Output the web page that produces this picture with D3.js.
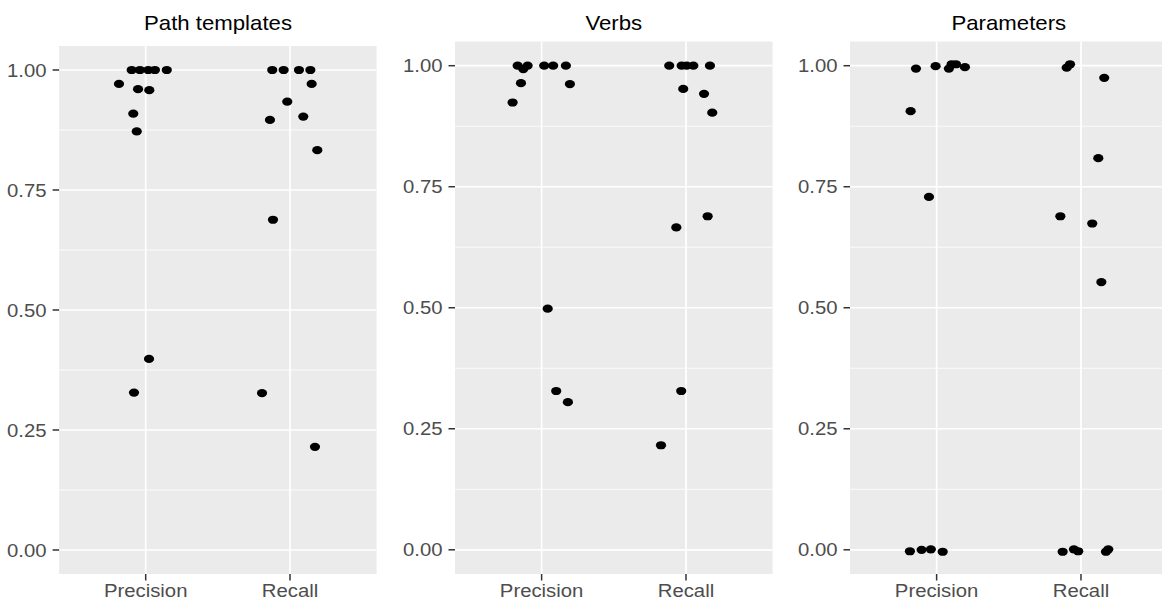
<!DOCTYPE html>
<html>
<head>
<meta charset="utf-8">
<script src="https://cdn.jsdelivr.net/npm/d3@7"></script>
<style>
  html, body { margin: 0; padding: 0; background: #fff; }
  svg { display: block; }
</style>
</head>
<body>
<svg id="chart" width="1162" height="602"></svg>
<script>
// ---------- data ----------
const categories = ["Precision", "Recall"];
const yTicks = [0, 0.25, 0.5, 0.75, 1.0];
const yTickLabels = ["0.00", "0.25", "0.50", "0.75", "1.00"];
const panelTitles = ["Path templates", "Verbs", "Parameters"];

// jittered x position (category index 1 = Precision, 2 = Recall) and value
const pathPrecisionX = [0.903, 0.960, 1.018, 1.064, 1.146, 0.815, 0.947, 1.025, 0.914, 0.938, 1.023, 0.919];
const pathPrecisionY = [1.000, 1.000, 1.000, 1.000, 1.000, 0.971, 0.960, 0.958, 0.909, 0.872, 0.398, 0.328];
const pathRecallX    = [1.877, 1.956, 2.062, 2.141, 2.150, 1.981, 2.092, 1.861, 2.189, 1.882, 1.806, 2.173];
const pathRecallY    = [1.000, 1.000, 1.000, 1.000, 0.971, 0.934, 0.903, 0.896, 0.833, 0.688, 0.327, 0.215];

const verbPrecisionX = [0.834, 0.873, 0.903, 1.018, 1.080, 1.168, 0.857, 1.196, 0.799, 1.042, 1.101, 1.182];
const verbPrecisionY = [1.000, 0.993, 1.000, 1.000, 1.000, 1.000, 0.964, 0.962, 0.924, 0.498, 0.328, 0.305];
const verbRecallX    = [1.884, 1.970, 2.005, 2.051, 2.166, 1.981, 2.125, 2.182, 2.150, 1.933, 1.967, 1.827];
const verbRecallY    = [1.000, 1.000, 1.000, 1.000, 1.000, 0.952, 0.942, 0.903, 0.689, 0.666, 0.328, 0.216];

const paramPrecisionX = [0.857, 0.993, 1.085, 1.104, 1.134, 1.196, 0.820, 0.947, 0.815, 0.896, 0.960, 1.042];
const paramPrecisionY = [0.994, 0.999, 0.994, 1.003, 1.003, 0.997, 0.906, 0.729, -0.003, 0.000, 0.001, -0.004];
const paramRecallX    = [1.901, 1.924, 2.161, 2.120, 1.857, 2.078, 2.141, 1.873, 1.951, 1.981, 2.173, 2.189];
const paramRecallY    = [0.996, 1.003, 0.975, 0.809, 0.689, 0.674, 0.553, -0.004, 0.001, -0.003, -0.004, 0.001];

// ---------- layout ----------
const panels = [
  { title: panelTitles[0], left: 59.1, right: 376.6, top: 46,   bottom: 574, cx: 218,
    xs: [pathPrecisionX, pathRecallX], ys: [pathPrecisionY, pathRecallY] },
  { title: panelTitles[1], left: 455,  right: 772.6, top: 41.5, bottom: 574, cx: 613.8,
    xs: [verbPrecisionX, verbRecallX], ys: [verbPrecisionY, verbRecallY] },
  { title: panelTitles[2], left: 850,  right: 1167.6, top: 41.5, bottom: 574, cx: 1008.8,
    xs: [paramPrecisionX, paramRecallX], ys: [paramPrecisionY, paramRecallY] }
];

const FONT = "'Liberation Sans', Arial, Helvetica, sans-serif";
const SX = 1.11; // horizontal stretch of the reference image

const svg = d3.select("#chart");

function stretchedText(g, x, y, txt, opts) {
  return g.append("text")
    .attr("transform", `translate(${x},${y}) scale(${SX},1)`)
    .attr("text-anchor", opts.anchor || "middle")
    .attr("dy", opts.dy || null)
    .style("font-family", FONT)
    .style("font-size", opts.size + "px")
    .attr("fill", opts.fill || "#000")
    .text(txt);
}

panels.forEach(p => {
  const g = svg.append("g");
  const x = d3.scaleLinear().domain([0.4, 2.6]).range([p.left, p.right]);
  const y = d3.scaleLinear().domain([-0.05, 1.05]).range([p.bottom, p.top]);

  // background
  g.append("rect")
    .attr("x", p.left).attr("y", p.top)
    .attr("width", p.right - p.left).attr("height", p.bottom - p.top)
    .attr("fill", "#EBEBEB");

  // minor grid
  const minor = [0.125, 0.375, 0.625, 0.875];
  g.selectAll(".minor").data(minor).enter().append("line")
    .attr("x1", p.left).attr("x2", p.right)
    .attr("y1", d => y(d)).attr("y2", d => y(d))
    .attr("stroke", "#fff").attr("stroke-width", 0.8);

  // major grid
  g.selectAll(".major").data(yTicks).enter().append("line")
    .attr("x1", p.left).attr("x2", p.right)
    .attr("y1", d => y(d)).attr("y2", d => y(d))
    .attr("stroke", "#fff").attr("stroke-width", 1.7);
  g.selectAll(".vmajor").data([1, 2]).enter().append("line")
    .attr("x1", d => x(d)).attr("x2", d => x(d))
    .attr("y1", p.top).attr("y2", p.bottom)
    .attr("stroke", "#fff").attr("stroke-width", 1.7);

  // y axis ticks and labels
  yTicks.forEach((t, i) => {
    g.append("line")
      .attr("x1", p.left - 6.5).attr("x2", p.left)
      .attr("y1", y(t)).attr("y2", y(t))
      .attr("stroke", "#333").attr("stroke-width", 1.5);
    stretchedText(g, p.left - 12.5, y(t), yTickLabels[i],
      { anchor: "end", size: 18.3, fill: "#4D4D4D", dy: "0.36em" });
  });

  // x axis ticks and labels
  categories.forEach((c, i) => {
    g.append("line")
      .attr("x1", x(i + 1)).attr("x2", x(i + 1))
      .attr("y1", p.bottom).attr("y2", p.bottom + 6.5)
      .attr("stroke", "#333").attr("stroke-width", 1.5);
    stretchedText(g, x(i + 1), 597, c, { size: 18.3, fill: "#4D4D4D" });
  });

  // points
  p.xs.forEach((xs, k) => {
    const ys = p.ys[k];
    g.selectAll(null).data(xs.map((v, j) => [v, ys[j]])).enter().append("ellipse")
      .attr("cx", d => x(d[0])).attr("cy", d => y(d[1]))
      .attr("rx", 5.1).attr("ry", 4.1)
      .attr("fill", "#000");
  });

  // title
  stretchedText(svg, p.cx, 29.5, p.title, { size: 20, fill: "#000" });
});
</script>
</body>
</html>
